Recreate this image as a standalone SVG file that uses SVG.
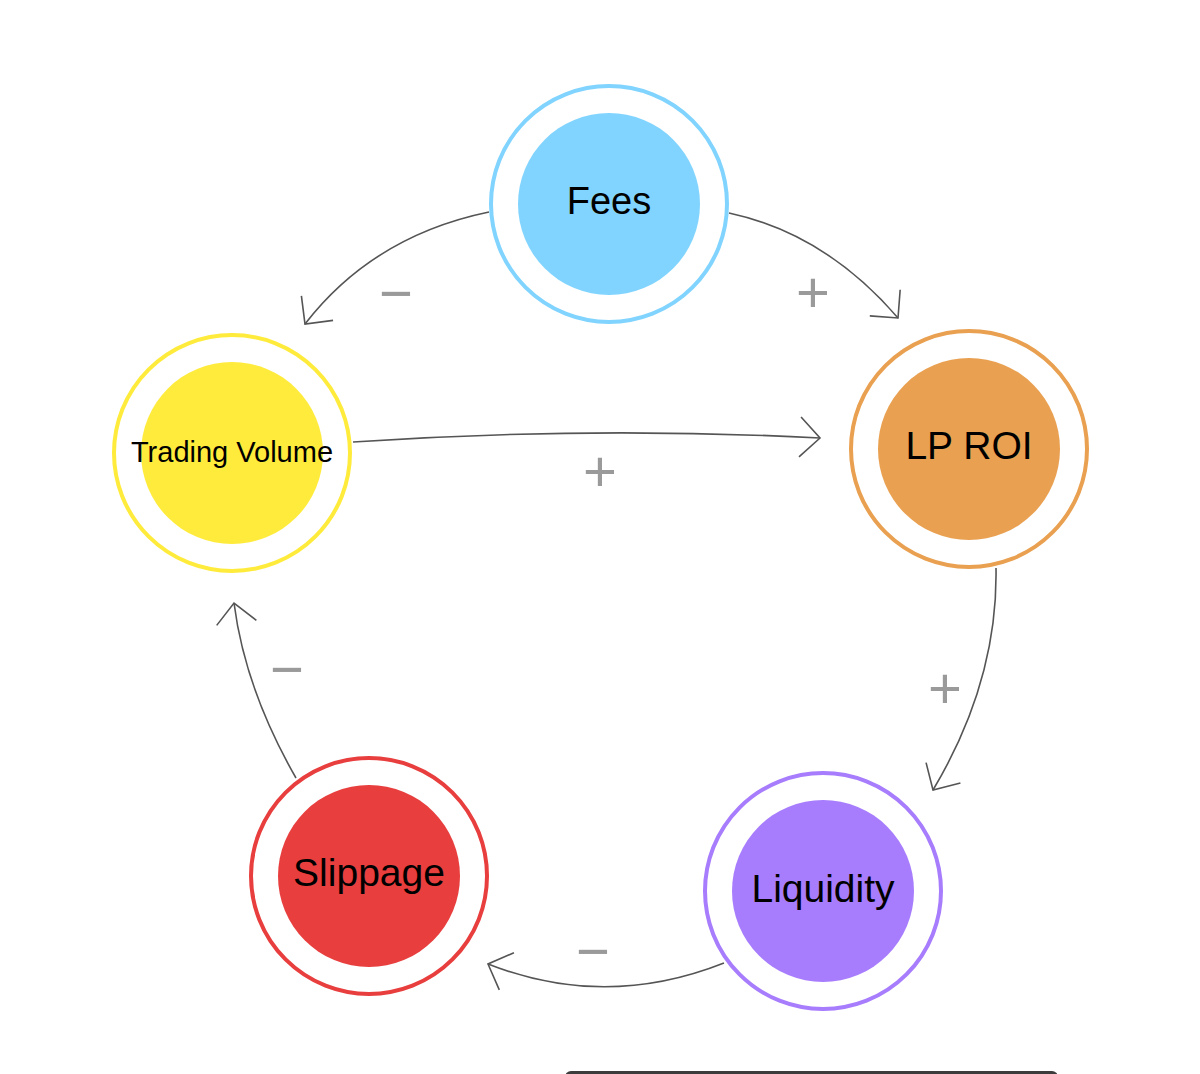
<svg xmlns="http://www.w3.org/2000/svg" width="1200" height="1074" viewBox="0 0 1200 1074">
<style>
.edge{fill:none;stroke:#555;stroke-width:1.6}
.ring{fill:none;stroke-width:4}
.lbl{font-family:"Liberation Sans",Arial,sans-serif;fill:#000;text-anchor:middle}
.sign{font-family:"Liberation Sans",Arial,sans-serif;fill:#9a9a9a;text-anchor:middle;font-size:58px}
</style>
<defs>
<marker id="arr" markerUnits="userSpaceOnUse" viewBox="-24 -24 28 48" refX="0" refY="0" markerWidth="28" markerHeight="48" orient="auto" overflow="visible">
<path d="M -20 -20 L 0 0 L -20 20" fill="none" stroke="#555" stroke-width="1.6"/>
</marker>
</defs>
<rect width="1200" height="1074" fill="#fff"/>
<g id="connectors">
<path class="edge" d="M 489 212 Q 373 236 305 324" marker-end="url(#arr)"/>
<path class="edge" d="M 729 213 Q 826 234 898 318" marker-end="url(#arr)"/>
<path class="edge" d="M 353 442 Q 590 426 820 438" marker-end="url(#arr)"/>
<path class="edge" d="M 996 568 Q 998 681 933 790" marker-end="url(#arr)"/>
<path class="edge" d="M 724 963 Q 605 1010 488 964" marker-end="url(#arr)"/>
<path class="edge" d="M 296 778 Q 245 689 234 603" marker-end="url(#arr)"/>
<text class="sign" x="396" y="313">−</text>
<text class="sign" x="813" y="312">+</text>
<text class="sign" x="600" y="491">+</text>
<text class="sign" x="945" y="708">+</text>
<text class="sign" x="593" y="971">−</text>
<text class="sign" x="287" y="689">−</text>
</g>
<g id="fees">
<circle class="ring" cx="609" cy="204" r="118" stroke="#80d4ff"/>
<circle cx="609" cy="204" r="91" fill="#80d4ff"/>
<text class="lbl" x="609" y="214" font-size="38">Fees</text>
</g>
<g id="lp-roi">
<circle class="ring" cx="969" cy="449" r="118" stroke="#e9a050"/>
<circle cx="969" cy="449" r="91" fill="#e9a050"/>
<text class="lbl" x="969" y="459" font-size="39">LP ROI</text>
</g>
<g id="trading-volume">
<circle class="ring" cx="232" cy="453" r="118" stroke="#ffeb3b"/>
<circle cx="232" cy="453" r="91" fill="#ffeb3b"/>
<text class="lbl" x="232" y="462" font-size="29">Trading Volume</text>
</g>
<g id="liquidity">
<circle class="ring" cx="823" cy="891" r="118" stroke="#a77dfd"/>
<circle cx="823" cy="891" r="91" fill="#a77dfd"/>
<text class="lbl" x="823" y="902" font-size="39">Liquidity</text>
</g>
<g id="slippage">
<circle class="ring" cx="369" cy="876" r="118" stroke="#e83e3e"/>
<circle cx="369" cy="876" r="91" fill="#e83e3e"/>
<text class="lbl" x="369" y="886" font-size="39">Slippage</text>
</g>
<rect x="565" y="1071" width="493" height="12" rx="6" fill="#3c3c3c"/>
</svg>
